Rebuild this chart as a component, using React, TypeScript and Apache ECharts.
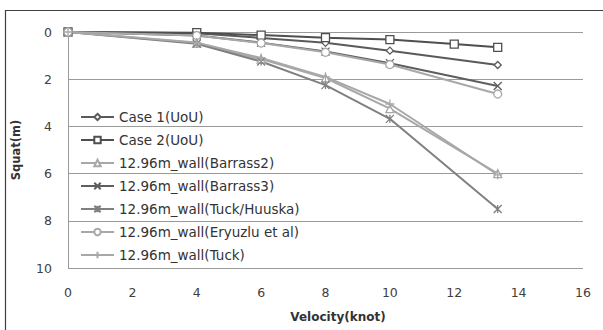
import React, { useEffect, useRef } from "react";
import * as echarts from "echarts";

const velocity = [0, 4, 6, 8, 10, 13.35];
const velocityCase2 = [0, 4, 6, 8, 10, 12, 13.35];
const case1 = [0, 0.05, 0.25, 0.46, 0.79, 1.4];
const case2 = [0, 0.03, 0.13, 0.24, 0.32, 0.51, 0.65];
const barrass2 = [0, 0.47, 1.15, 1.95, 3.25, 6.0];
const barrass3 = [0, 0.15, 0.45, 0.83, 1.32, 2.29];
const tuckHuuska = [0, 0.5, 1.25, 2.25, 3.68, 7.5];
const eryuzlu = [0, 0.15, 0.47, 0.86, 1.38, 2.63];
const tuck = [0, 0.45, 1.1, 1.9, 3.05, 6.05];

const seriesNames = [
  "Case 1(UoU)",
  "Case 2(UoU)",
  "12.96m_wall(Barrass2)",
  "12.96m_wall(Barrass3)",
  "12.96m_wall(Tuck/Huuska)",
  "12.96m_wall(Eryuzlu et al)",
  "12.96m_wall(Tuck)",
];

const FONT = "'DejaVu Sans', sans-serif";

function pairs(xs: number[], ys: number[]) {
  return xs.map((x, i) => [x, ys[i]]);
}

export default function App() {
  const ref = useRef<HTMLDivElement>(null);
  useEffect(() => {
    if (!ref.current) return;
    const chart = echarts.init(ref.current, undefined, { renderer: "svg" });
    const mk = (
      name: string,
      xs: number[],
      ys: number[],
      color: string,
      symbol: string,
      size: number,
      fill: string
    ) => ({
      name,
      type: "line",
      data: pairs(xs, ys),
      symbol,
      symbolSize: size,
      showSymbol: true,
      lineStyle: { color, width: 2 },
      itemStyle: { color: fill, borderColor: color, borderWidth: 1.3 },
      emphasis: { disabled: true },
    });
    const cross = "path://M0,0L10,10M10,0L0,10";
    const star = "path://M0,0L10,10M10,0L0,10M5,0L5,10";
    const plus = "path://M5,0L5,10M0,5L10,5";
    chart.setOption({
      animation: false,
      grid: { left: 68, right: 20, top: 32, bottom: 62 },
      xAxis: {
        type: "value",
        min: 0,
        max: 16,
        interval: 2,
        name: "Velocity(knot)",
        nameLocation: "middle",
        nameGap: 43,
        nameTextStyle: {
          fontFamily: FONT,
          fontWeight: "bold",
          fontSize: 12,
          color: "#333",
          padding: [0, 0, 0, 25],
        },
        axisLine: { show: false, onZero: false },
        axisTick: { show: false },
        splitLine: { show: false },
        axisLabel: { fontFamily: FONT, fontSize: 12.5, color: "#404040", margin: 18 },
      },
      yAxis: {
        type: "value",
        inverse: true,
        min: 0,
        max: 10,
        interval: 2,
        name: "Squat(m)",
        nameLocation: "middle",
        nameGap: 46,
        nameTextStyle: {
          fontFamily: FONT,
          fontWeight: "bold",
          fontSize: 11.5,
          color: "#333",
        },
        axisLine: { show: true, lineStyle: { color: "#9a9a9a", width: 1 } },
        axisTick: { show: false },
        splitLine: { show: true, lineStyle: { color: "#9a9a9a", width: 1 } },
        axisLabel: { fontFamily: FONT, fontSize: 12.5, color: "#404040", margin: 16 },
      },
      legend: {
        orient: "vertical",
        left: 75,
        top: 105,
        padding: 5,
        itemGap: 9,
        itemWidth: 33,
        itemHeight: 8,
        textStyle: { fontFamily: FONT, fontSize: 13.5, color: "#333" },
        data: seriesNames,
      },
      graphic: [
        {
          type: "rect",
          shape: { x: 5.5, y: 10.5, width: 700, height: 500 },
          style: { fill: "none", stroke: "#404040", lineWidth: 1.2 },
          silent: true,
        },
      ],
      series: [
        mk(seriesNames[0], velocity, case1, "#5a5a5a", "diamond", 7, "#fff"),
        mk(seriesNames[1], velocityCase2, case2, "#4f4f4f", "rect", 8, "#fff"),
        mk(seriesNames[2], velocity, barrass2, "#a8a8a8", "triangle", 8, "#fff"),
        mk(seriesNames[3], velocity, barrass3, "#5e5e5e", cross, 8, "none"),
        mk(seriesNames[4], velocity, tuckHuuska, "#808080", star, 8, "none"),
        mk(seriesNames[5], velocity, eryuzlu, "#a8a8a8", "circle", 8, "#fff"),
        mk(seriesNames[6], velocity, tuck, "#a8a8a8", plus, 9, "none"),
      ],
    });
    return () => chart.dispose();
  }, []);
  return (
    <div
      ref={ref}
      style={{ position: "fixed", left: 0, top: 0, width: 603, height: 330, background: "#fff" }}
    />
  );
}
